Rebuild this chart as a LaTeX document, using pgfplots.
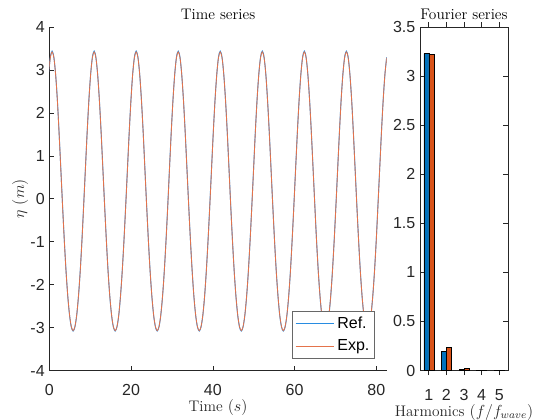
\documentclass[border=0pt]{standalone}
\usepackage{fontspec}
\newfontfamily\arialfont{Liberation Sans}
\usepackage{pgfplots}
\usepackage{pgfplotstable}
\pgfplotsset{compat=1.18}
\definecolor{axgray}{RGB}{38,38,38}
\definecolor{refc}{RGB}{0,114,189}
\definecolor{expc}{RGB}{217,83,25}
\definecolor{refl}{RGB}{40,140,225}
\definecolor{expl}{RGB}{228,115,75}

\pgfplotstableread{
t ref exp
-0.20 2.90 2.90
0.23 3.30 3.29
0.66 3.44 3.42
1.09 3.30 3.29
1.52 2.90 2.90
1.95 2.30 2.29
2.37 1.54 1.53
2.80 0.69 0.67
3.23 -0.17 -0.19
3.66 -0.99 -1.00
4.09 -1.71 -1.72
4.52 -2.30 -2.29
4.95 -2.73 -2.72
5.37 -2.99 -2.98
5.80 -3.08 -3.07
6.23 -2.99 -2.98
6.66 -2.73 -2.72
7.09 -2.30 -2.29
7.52 -1.71 -1.72
7.95 -0.99 -1.00
8.37 -0.17 -0.19
8.80 0.69 0.67
9.23 1.54 1.53
9.66 2.30 2.29
10.09 2.90 2.90
10.52 3.30 3.29
10.95 3.44 3.42
11.37 3.30 3.29
11.80 2.90 2.90
12.23 2.30 2.29
12.66 1.54 1.53
13.09 0.69 0.67
13.52 -0.17 -0.19
13.95 -0.99 -1.00
14.37 -1.71 -1.72
14.80 -2.30 -2.29
15.23 -2.73 -2.72
15.66 -2.99 -2.98
16.09 -3.08 -3.07
16.52 -2.99 -2.98
16.95 -2.73 -2.72
17.37 -2.30 -2.29
17.80 -1.71 -1.72
18.23 -0.99 -1.00
18.66 -0.17 -0.19
19.09 0.69 0.67
19.52 1.54 1.53
19.95 2.30 2.29
20.37 2.90 2.90
20.80 3.30 3.29
21.23 3.44 3.42
21.66 3.30 3.29
22.09 2.90 2.90
22.52 2.30 2.29
22.95 1.54 1.53
23.37 0.69 0.67
23.80 -0.17 -0.19
24.23 -0.99 -1.00
24.66 -1.71 -1.72
25.09 -2.30 -2.29
25.52 -2.73 -2.72
25.95 -2.99 -2.98
26.37 -3.08 -3.07
26.80 -2.99 -2.98
27.23 -2.73 -2.72
27.66 -2.30 -2.29
28.09 -1.71 -1.72
28.52 -0.99 -1.00
28.95 -0.17 -0.19
29.37 0.69 0.67
29.80 1.54 1.53
30.23 2.30 2.29
30.66 2.90 2.90
31.09 3.30 3.29
31.52 3.44 3.42
31.95 3.30 3.29
32.37 2.90 2.90
32.80 2.30 2.29
33.23 1.54 1.53
33.66 0.69 0.67
34.09 -0.17 -0.19
34.52 -0.99 -1.00
34.95 -1.71 -1.72
35.37 -2.30 -2.29
35.80 -2.73 -2.72
36.23 -2.99 -2.98
36.66 -3.08 -3.07
37.09 -2.99 -2.98
37.52 -2.73 -2.72
37.95 -2.30 -2.29
38.37 -1.71 -1.72
38.80 -0.99 -1.00
39.23 -0.17 -0.19
39.66 0.69 0.67
40.09 1.54 1.53
40.52 2.30 2.29
40.95 2.90 2.90
41.37 3.30 3.29
41.80 3.44 3.42
42.23 3.30 3.29
42.66 2.90 2.90
43.09 2.30 2.29
43.52 1.54 1.53
43.95 0.69 0.67
44.37 -0.17 -0.19
44.80 -0.99 -1.00
45.23 -1.71 -1.72
45.66 -2.30 -2.29
46.09 -2.73 -2.72
46.52 -2.99 -2.98
46.95 -3.08 -3.07
47.37 -2.99 -2.98
47.80 -2.73 -2.72
48.23 -2.30 -2.29
48.66 -1.71 -1.72
49.09 -0.99 -1.00
49.52 -0.17 -0.19
49.95 0.69 0.67
50.37 1.54 1.53
50.80 2.30 2.29
51.23 2.90 2.90
51.66 3.30 3.29
52.09 3.44 3.42
52.52 3.30 3.29
52.95 2.90 2.90
53.37 2.30 2.29
53.80 1.54 1.53
54.23 0.69 0.67
54.66 -0.17 -0.19
55.09 -0.99 -1.00
55.52 -1.71 -1.72
55.95 -2.30 -2.29
56.37 -2.73 -2.72
56.80 -2.99 -2.98
57.23 -3.08 -3.07
57.66 -2.99 -2.98
58.09 -2.73 -2.72
58.52 -2.30 -2.29
58.95 -1.71 -1.72
59.37 -0.99 -1.00
59.80 -0.17 -0.19
60.23 0.69 0.67
60.66 1.54 1.53
61.09 2.30 2.29
61.52 2.90 2.90
61.95 3.30 3.29
62.37 3.44 3.42
62.80 3.30 3.29
63.23 2.90 2.90
63.66 2.30 2.29
64.09 1.54 1.53
64.52 0.69 0.67
64.95 -0.17 -0.19
65.37 -0.99 -1.00
65.80 -1.71 -1.72
66.23 -2.30 -2.29
66.66 -2.73 -2.72
67.09 -2.99 -2.98
67.52 -3.08 -3.07
67.95 -2.99 -2.98
68.37 -2.73 -2.72
68.80 -2.30 -2.29
69.23 -1.71 -1.72
69.66 -0.99 -1.00
70.09 -0.17 -0.19
70.52 0.69 0.67
70.95 1.54 1.53
71.37 2.30 2.29
71.80 2.90 2.90
72.23 3.30 3.29
72.66 3.44 3.42
73.09 3.30 3.29
73.52 2.90 2.90
73.95 2.30 2.29
74.37 1.54 1.53
74.80 0.69 0.67
75.23 -0.17 -0.19
75.66 -0.99 -1.00
76.09 -1.71 -1.72
76.52 -2.30 -2.29
76.95 -2.73 -2.72
77.37 -2.99 -2.98
77.80 -3.08 -3.07
78.23 -2.99 -2.98
78.66 -2.73 -2.72
79.09 -2.30 -2.29
79.52 -1.71 -1.72
79.95 -0.99 -1.00
80.37 -0.17 -0.19
80.80 0.69 0.67
81.23 1.54 1.53
81.66 2.30 2.29
82.09 2.90 2.90
82.52 3.30 3.29
}\tsdata

\pgfplotstableread{
h ref exp
1 3.230 3.225
2 0.198 0.232
3 0.010 0.018
4 0.005 0.004
5 0.001 0.001
}\fsdata

\pgfplotsset{
  mystyle/.style={
    scale only axis,
    tick align=inside,
    major tick length=3.5pt,
    every tick/.style={axgray, line width=0.5pt},
    axis line style={axgray, line width=0.5pt, -},
    tick label style={font=\arialfont\fontsize{12}{14}\selectfont, text=axgray},
    xticklabel style={yshift=-7pt},
    label style={font=\fontsize{11.5}{13}\selectfont, text=axgray},
    xlabel style={yshift=4pt},
    title style={font=\fontsize{11.5}{13}\selectfont, text=black, yshift=-4pt},
  }
}

\begin{document}
\begin{tikzpicture}
\useasboundingbox (0,0) rectangle (400.5pt,315pt);
\begin{axis}[
  mystyle,
  at={(37.05pt,37.1pt)}, anchor=south west,
  width=252.9pt, height=257.6pt,
  xmin=0, xmax=82.5, ymin=-4, ymax=4,
  axis x line*=bottom, axis y line*=left,
  xtick={0,20,40,60,80}, xticklabels={0,20,40,60,80},
  ytick={-4,-3,-2,-1,0,1,2,3,4}, yticklabels={-4,-3,-2,-1,0,1,2,3,4},
  title={Time series},
  xlabel={Time $(s)$},
  ylabel={$\eta\ (m)$},
  ylabel style={at={(rel axis cs:-0.087,0.5)}, anchor=center},
  legend style={at={(0.9656,0.035)}, anchor=south east, draw=axgray!70, line width=0.5pt,
    font=\arialfont\fontsize{12}{14}\selectfont, text=black, row sep=3pt,
    inner xsep=2pt, inner ysep=2pt},
  legend cell align=left,
  legend image code/.code={\draw[#1] (0pt,0pt) -- (29pt,0pt);},
]
\addplot[refl, line width=0.7pt, smooth] table[x=t, y=ref] {\tsdata};
\addlegendentry{Ref.}
\addplot[expl, line width=0.6pt, smooth] table[x=t, y=exp] {\tsdata};
\addlegendentry{Exp.}
\end{axis}
\begin{axis}[
  mystyle,
  at={(315pt,37.1pt)}, anchor=south west,
  width=66pt, height=257.6pt,
  xmin=0.5, xmax=5.5, ymin=0, ymax=3.5,
  xtick={1,2,3,4,5}, xticklabels={1,2,3,4,5},
  ytick={0,0.5,1,1.5,2,2.5,3,3.5}, yticklabels={0,0.5,1,1.5,2,2.5,3,3.5},
  title={Fourier series},
  xlabel={Harmonics $(f/f_{wave})$},
  ybar=0pt, bar width=3.75pt,
]
\addplot[fill=refc, draw=black, line width=0.4pt] table[x=h, y=ref] {\fsdata};
\addplot[fill=expc, draw=black, line width=0.4pt] table[x=h, y=exp] {\fsdata};
\end{axis}
\end{tikzpicture}
\end{document}
